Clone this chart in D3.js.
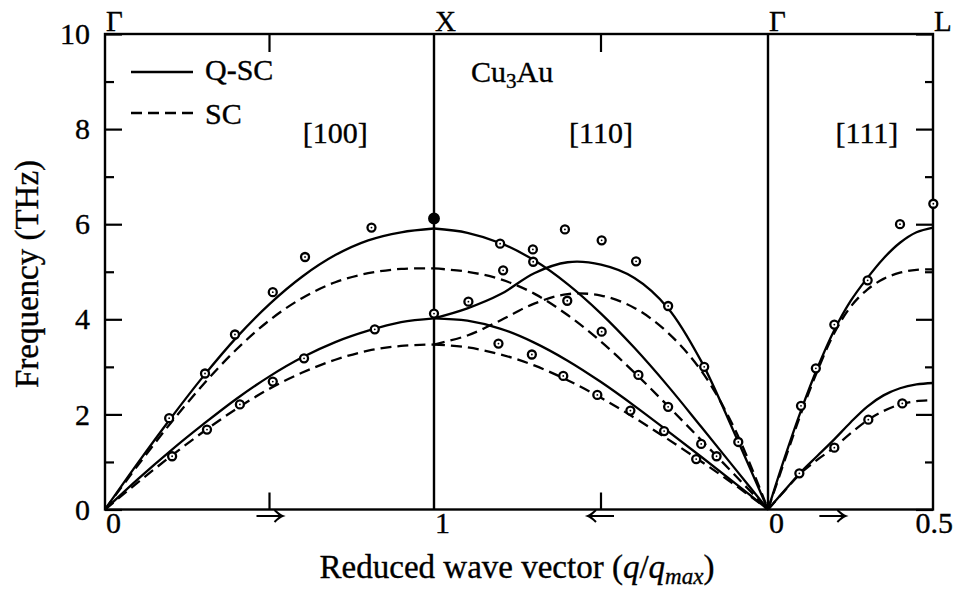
<!DOCTYPE html>
<html><head><meta charset="utf-8">
<script src="https://cdn.jsdelivr.net/npm/d3@7"></script>
<style>body{margin:0;background:#fff}svg{display:block}</style>
</head><body><svg id="c" width="960" height="591"></svg>
<script>
// ---------------- data ----------------
const seriesNames = ["Q-SC", "SC"];
const pointLabels = ["Γ", "X", "Γ", "L"];
const axisLabels = ["0", "1", "0", "0.5"];
const directionLabels = ["[100]", "[110]", "[111]"];
const yMajor = [0, 2, 4, 6, 8, 10];
const yMinor = [1, 3, 5, 7, 9];

// [100] Γ -> X
const q100 = [0, 0.1, 0.2, 0.3, 0.4, 0.5, 0.6, 0.7, 0.8, 0.9, 1.0];
const qsc100L = [0, 0.98, 1.92, 2.81, 3.62, 4.32, 4.90, 5.35, 5.66, 5.83, 5.91];
const sc100L  = [0, 0.93, 1.82, 2.64, 3.37, 3.98, 4.45, 4.78, 4.97, 5.06, 5.07];
const qsc100T = [0, 0.64, 1.24, 1.80, 2.33, 2.80, 3.20, 3.52, 3.76, 3.94, 4.02];
const sc100T  = [0, 0.57, 1.12, 1.64, 2.12, 2.54, 2.88, 3.15, 3.34, 3.44, 3.47];

// [110] X -> Γ (q goes from 1 at X to 0 at Γ)
const q110 = [0, 0.1, 0.2, 0.3, 0.4, 0.5, 0.6, 0.7, 0.8, 0.9, 1.0];
const qsc110L  = [0, 0.87, 1.74, 2.60, 3.40, 4.12, 4.74, 5.24, 5.60, 5.82, 5.91];
const sc110L   = [0, 0.73, 1.46, 2.18, 2.88, 3.53, 4.09, 4.54, 4.84, 5.00, 5.07];
const qsc110T2 = [0, 1.60, 3.12, 4.24, 4.87, 5.15, 5.20, 4.97, 4.53, 4.23, 4.02];
const sc110T2  = [0, 1.70, 2.92, 3.72, 4.24, 4.50, 4.53, 4.33, 3.98, 3.66, 3.47];
const qsc110T1 = [0, 0.56, 1.11, 1.65, 2.18, 2.68, 3.13, 3.51, 3.80, 3.97, 4.02];
const sc110T1  = [0, 0.52, 1.01, 1.48, 1.93, 2.35, 2.72, 3.03, 3.26, 3.41, 3.47];

// [111] Γ -> L
const q111 = [0, 0.05, 0.1, 0.15, 0.2, 0.25, 0.3, 0.35, 0.4, 0.45, 0.5];
const qsc111L = [0, 1.08, 2.08, 2.98, 3.76, 4.38, 4.86, 5.28, 5.61, 5.83, 5.93];
const sc111L  = [0, 1.02, 2.02, 2.92, 3.70, 4.26, 4.62, 4.85, 4.98, 5.04, 5.05];
const qsc111T = [0, 0.40, 0.79, 1.13, 1.47, 1.83, 2.16, 2.40, 2.55, 2.63, 2.66];
const sc111T  = [0, 0.39, 0.77, 1.05, 1.30, 1.60, 1.87, 2.07, 2.21, 2.28, 2.30];

// experimental points
const exp100Q = [0.195, 0.304, 0.395, 0.51, 0.608, 0.81, 0.204, 0.31, 0.41, 0.51, 0.605, 0.82, 1.0];
const exp100V = [1.92, 2.86, 3.68, 4.57, 5.31, 5.93, 1.12, 1.68, 2.21, 2.69, 3.18, 3.79, 4.12];
const exp110Q = [0.802, 0.704, 0.703, 0.608, 0.498, 0.395, 0.299, 0.191, 0.089,
                 0.897, 0.793, 0.601, 0.498, 0.388, 0.299, 0.2, 0.154,
                 0.807, 0.707, 0.613, 0.511, 0.412, 0.311, 0.215];
const exp110V = [5.59, 5.47, 5.21, 5.89, 5.66, 5.22, 4.28, 3.00, 1.42,
                 4.37, 5.03, 4.39, 3.74, 2.83, 2.16, 1.38, 1.12,
                 3.49, 3.26, 2.81, 2.41, 2.08, 1.65, 1.06];
const exp111Q = [0.501, 0.4, 0.302, 0.201, 0.145, 0.1, 0.095, 0.201, 0.304, 0.407];
const exp111V = [6.43, 6.00, 4.82, 3.89, 2.97, 2.18, 0.76, 1.30, 1.89, 2.23];
const expXQ = [1.0];
const expXV = [6.12];

// ---------------- layout ----------------
const FONT = "'Liberation Serif','Times New Roman',serif";
const svg = d3.select("#c");
const L = 105, R = 933, T = 34, B = 509.5;
// path coordinate: [100] 0..1, [110] 1..2, [111] 2..2.5
const x = d3.scaleLinear().domain([0, 1, 2, 2.5]).range([L, 434, 768, R]);
const y = d3.scaleLinear().domain([0, 10]).range([B, T]);
const pos = {
  "100": q => q,
  "110": q => 2 - q,
  "111": q => 2 + q
};
const midTicks = [pos["100"](0.5), pos["110"](0.5)];

svg.append("rect").attr("width", 960).attr("height", 591).attr("fill", "#fff");

function txt(sel) {
  return sel.attr("font-family", FONT).attr("fill", "#000")
    .attr("stroke", "#000").attr("stroke-width", 0.35);
}

// curves
const curves = [
  ["100", q100, qsc100L, false], ["100", q100, sc100L, true],
  ["100", q100, qsc100T, false], ["100", q100, sc100T, true],
  ["110", q110, qsc110L, false], ["110", q110, sc110L, true],
  ["110", q110, qsc110T2, false], ["110", q110, sc110T2, true],
  ["110", q110, qsc110T1, false], ["110", q110, sc110T1, true],
  ["111", q111, qsc111L, false], ["111", q111, sc111L, true],
  ["111", q111, qsc111T, false], ["111", q111, sc111T, true]
];
const line = d3.line().x(d => x(d[0])).y(d => y(d[1])).curve(d3.curveCatmullRom.alpha(0.5));
const gc = svg.append("g");
curves.forEach(([seg, qs, vs, dashed]) => {
  const pts = qs.map((q, i) => [pos[seg](q), vs[i]]).sort((a, b) => a[0] - b[0]);
  gc.append("path").attr("d", line(pts)).attr("fill", "none")
    .attr("stroke", "#000").attr("stroke-width", 2.3)
    .attr("stroke-dasharray", dashed ? "11,6" : null);
});

// frame, symmetry lines
svg.append("rect").attr("x", L).attr("y", T).attr("width", R - L).attr("height", B - T)
  .attr("fill", "none").attr("stroke", "#000").attr("stroke-width", 2.4);
[1, 2].forEach(p => svg.append("line").attr("x1", x(p)).attr("x2", x(p))
  .attr("y1", T).attr("y2", B).attr("stroke", "#000").attr("stroke-width", 2.4));

// axes
function styleAxis(g) {
  g.select(".domain").remove();
  g.selectAll(".tick line").attr("stroke", "#000").attr("stroke-width", 2.2);
  txt(g.selectAll(".tick text")).attr("font-size", 30);
}
svg.append("g").attr("transform", `translate(${L},0)`)
  .call(d3.axisLeft(y).tickValues(yMajor).tickSize(-17).tickPadding(15).tickFormat(d3.format("d")))
  .call(styleAxis);
svg.append("g").attr("transform", `translate(${L},0)`)
  .call(d3.axisLeft(y).tickValues(yMinor).tickSize(-9).tickFormat("")).call(styleAxis);
svg.append("g").attr("transform", `translate(${R},0)`)
  .call(d3.axisRight(y).tickValues(yMajor).tickSize(-17).tickFormat("")).call(styleAxis);
svg.append("g").attr("transform", `translate(${R},0)`)
  .call(d3.axisRight(y).tickValues(yMinor).tickSize(-8).tickFormat("")).call(styleAxis);
// mid-segment ticks on top (pointing down) and bottom (pointing up)
midTicks.forEach(p => {
  svg.append("line").attr("x1", x(p)).attr("x2", x(p)).attr("y1", T).attr("y2", T + 18)
    .attr("stroke", "#000").attr("stroke-width", 2.2);
  svg.append("line").attr("x1", x(p)).attr("x2", x(p)).attr("y1", B).attr("y2", B - 17)
    .attr("stroke", "#000").attr("stroke-width", 2.2);
});

// bottom q labels and top symmetry point labels
const labelPos = [0, 1, 2, 2.5];
labelPos.forEach((p, i) => {
  const last = i === labelPos.length - 1;
  txt(svg.append("text")).attr("x", last ? x(p) + 20 : x(p) + 1).attr("y", 533)
    .attr("text-anchor", last ? "end" : "start")
    .attr("font-size", 30).text(axisLabels[i]);
  txt(svg.append("text")).attr("x", x(p) + 1).attr("y", 31)
    .attr("font-size", 29).text(pointLabels[i]);
});

// direction arrows under the axis
const arrows = [[pos["100"](0.5), 1], [pos["110"](0.5), -1], [pos["111"](0.195), 1]];
arrows.forEach(([p, dir]) => {
  const cx = x(p), yy = 516, hw = 13;
  const tip = cx + dir * hw;
  svg.append("path")
    .attr("d", `M${cx - dir * hw},${yy}H${tip}M${tip - dir * 8},${yy - 6}Q${tip - dir * 3},${yy - 1} ${tip},${yy}Q${tip - dir * 3},${yy + 1} ${tip - dir * 8},${yy + 6}`)
    .attr("fill", "none").attr("stroke", "#000").attr("stroke-width", 2);
});

// direction labels
[pos["100"](0.70), pos["110"](0.5), pos["111"](0.3)].forEach((p, i) => {
  txt(svg.append("text")).attr("x", x(p)).attr("y", 143).attr("text-anchor", "middle")
    .attr("font-size", 30).text(directionLabels[i]);
});

// material label
const mat = txt(svg.append("text")).attr("x", 471).attr("y", 82).attr("font-size", 30);
mat.append("tspan").text("Cu");
mat.append("tspan").attr("font-size", 21).attr("dy", 6).text("3");
mat.append("tspan").attr("dy", -6).text("Au");

// legend
[[72, 80, false], [113, 124, true]].forEach(([ly, ty, dashed], i) => {
  svg.append("line").attr("x1", 131).attr("x2", 193).attr("y1", ly).attr("y2", ly)
    .attr("stroke", "#000").attr("stroke-width", 2.3).attr("stroke-dasharray", dashed ? "11,6" : null);
  txt(svg.append("text")).attr("x", 205).attr("y", ty)
    .attr("font-size", 30).text(seriesNames[i]);
});

// experimental points
const gp = svg.append("g");
function dots(seg, qs, vs, filled) {
  qs.forEach((q, i) => {
    const cx = x(pos[seg](q)), cy = y(vs[i]);
    gp.append("circle").attr("cx", cx).attr("cy", cy).attr("r", filled ? 4.8 : 4.0)
      .attr("fill", filled ? "#000" : "#fff").attr("stroke", "#000").attr("stroke-width", 2.3);
    if (!filled) gp.append("circle").attr("cx", cx).attr("cy", cy).attr("r", 0.9).attr("fill", "#000");
  });
}
dots("100", exp100Q, exp100V, false);
dots("110", exp110Q, exp110V, false);
dots("111", exp111Q, exp111V, false);
dots("100", expXQ, expXV, true);

// axis titles
txt(svg.append("text")).attr("transform", "translate(38,274) rotate(-90)").attr("text-anchor", "middle")
  .attr("font-size", 33).text("Frequency (THz)");
const xt = txt(svg.append("text")).attr("x", 517).attr("y", 578).attr("text-anchor", "middle")
  .attr("font-size", 33);
xt.append("tspan").text("Reduced wave vector (");
xt.append("tspan").attr("font-style", "italic").text("q");
xt.append("tspan").text("/");
xt.append("tspan").attr("font-style", "italic").text("q");
xt.append("tspan").attr("font-style", "italic").attr("font-size", 23).attr("dy", 6).text("max");
xt.append("tspan").attr("dy", -6).text(")");
</script></body></html>
